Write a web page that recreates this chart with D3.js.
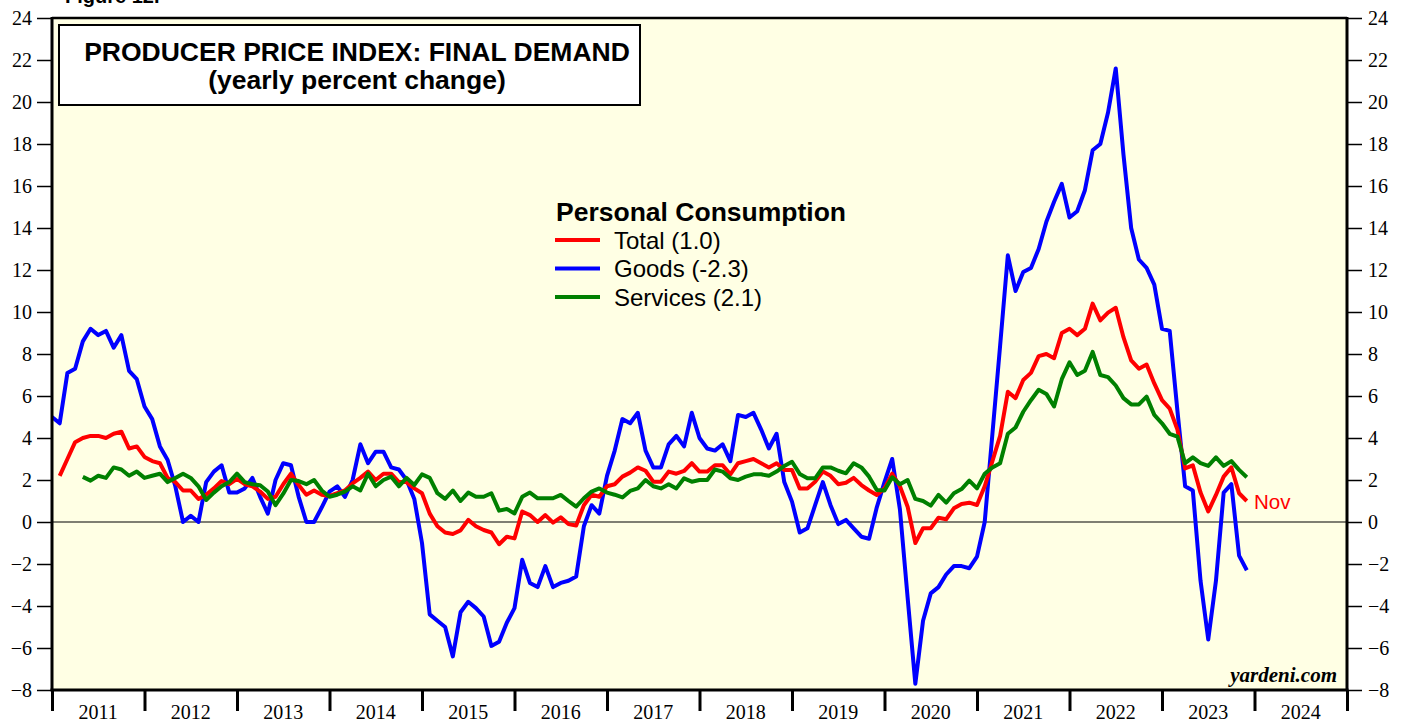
<!DOCTYPE html>
<html>
<head>
<meta charset="utf-8">
<script src="https://cdn.jsdelivr.net/npm/d3@7"></script>
<style>
  html, body { margin: 0; padding: 0; background: #ffffff; }
  svg { display: block; }
</style>
</head>
<body>
<svg id="chart" width="1407" height="721"></svg>
<script>
// ---------- DATA (monthly yearly % change) ----------
const yearLabels = ["2011","2012","2013","2014","2015","2016","2017","2018","2019","2020","2021","2022","2023","2024"];
const yTicks = [-8,-6,-4,-2,0,2,4,6,8,10,12,14,16,18,20,22,24];

// Goods: starts Dec 2010
const goodsStart = [2010, 11];
const goods = [
  5.0,
  4.7, 7.1, 7.3, 8.6, 9.2, 8.9, 9.1, 8.3, 8.9, 7.2, 6.8, 5.5,
  4.9, 3.6, 2.95, 1.7, 0.0, 0.3, 0.0, 1.9, 2.4, 2.7, 1.4, 1.4,
  1.6, 2.1, 1.2, 0.4, 2.0, 2.8, 2.7, 1.2, 0.0, 0.0, 0.7, 1.45,
  1.7, 1.2, 2.0, 3.7, 2.8, 3.35, 3.35, 2.6, 2.5, 2.0, 1.1, -1.0,
  -4.4, -4.7, -5.0, -6.4, -4.3, -3.8, -4.1, -4.5, -5.9, -5.7, -4.8, -4.1,
  -1.8, -2.9, -3.1, -2.1, -3.1, -2.9, -2.8, -2.6, -0.2, 0.8, 0.4, 2.2,
  3.4, 4.9, 4.7, 5.2, 3.4, 2.6, 2.6, 3.7, 4.1, 3.6, 5.2, 4.0,
  3.5, 3.4, 3.7, 2.9, 5.1, 5.0, 5.2, 4.4, 3.5, 4.2, 1.9, 0.97,
  -0.5, -0.3, 0.8, 1.9, 0.8, -0.1, 0.1, -0.3, -0.7, -0.8, 0.7, 1.9,
  3.0, 0.6, -3.6, -7.7, -4.7, -3.4, -3.1, -2.5, -2.1, -2.1, -2.2, -1.65,
  0.0, 4.2, 8.4, 12.7, 11.0, 11.9, 12.1, 13.0, 14.3, 15.25, 16.1, 14.5,
  14.8, 15.8, 17.7, 18.0, 19.5, 21.6, 17.5, 14.0, 12.5, 12.1, 11.3, 9.2,
  9.1, 5.3, 1.7, 1.5, -2.8, -5.6, -2.8, 1.4, 1.8, -1.6, -2.3
];

// Total: starts Jan 2011
const totalStart = [2011, 0];
const total = [
  2.2, 3.0, 3.8, 4.0, 4.1, 4.1, 4.0, 4.2, 4.3, 3.5, 3.6, 3.1,
  2.9, 2.8, 2.1, 1.9, 1.5, 1.5, 1.1, 1.3, 1.6, 1.95, 1.8, 2.05,
  1.8, 1.7, 1.45, 1.1, 1.2, 1.8, 2.3, 1.76, 1.3, 1.5, 1.3, 1.24,
  1.37, 1.5, 1.84, 2.1, 2.4, 2.0, 2.3, 2.3, 1.9, 1.9, 1.6, 1.37,
  0.4, -0.2, -0.5, -0.57, -0.4, 0.1, -0.2, -0.38, -0.5, -1.06, -0.7, -0.78,
  0.5, 0.33, 0.0, 0.33, -0.03, 0.22, -0.1, -0.17, 0.8, 1.3, 1.2, 1.7,
  1.8, 2.16, 2.35, 2.6, 2.44, 1.92, 1.92, 2.4, 2.3, 2.43, 2.8, 2.4,
  2.4, 2.7, 2.7, 2.27, 2.8, 2.9, 3.0, 2.8, 2.6, 2.8, 2.48, 2.48,
  1.6, 1.6, 1.92, 2.4, 2.2, 1.8, 1.87, 2.1, 1.76, 1.5, 1.29, 1.6,
  2.3, 1.7, 0.73, -1.0, -0.3, -0.3, 0.2, 0.13, 0.65, 0.86, 0.92, 0.81,
  1.7, 2.9, 4.1, 6.2, 5.9, 6.76, 7.1, 7.9, 8.0, 7.8, 9.0, 9.2,
  8.9, 9.2, 10.4, 9.6, 9.97, 10.2, 8.8, 7.7, 7.3, 7.5, 6.6, 5.8,
  5.4, 4.4, 2.55, 2.7, 1.4, 0.5, 1.29, 2.16, 2.6, 1.37, 1.0
];

// Services: starts Apr 2011
const servicesStart = [2011, 3];
const services = [
  2.15, 1.97, 2.2, 2.1, 2.6, 2.5, 2.2, 2.4, 2.1,
  2.2, 2.3, 1.9, 2.1, 2.3, 2.1, 1.7, 1.05, 1.4, 1.7, 1.9, 2.3,
  1.9, 1.8, 1.75, 1.45, 0.8, 1.35, 2.0, 1.95, 1.8, 2.0, 1.5, 1.2,
  1.3, 1.45, 1.7, 1.5, 2.3, 1.7, 2.0, 2.16, 1.7, 2.1, 1.76, 2.27,
  2.1, 1.37, 1.1, 1.5, 1.0, 1.4, 1.2, 1.2, 1.37, 0.54, 0.62, 0.41,
  1.2, 1.4, 1.13, 1.13, 1.13, 1.29, 1.0, 0.73, 1.13, 1.45, 1.6, 1.4,
  1.3, 1.17, 1.48, 1.6, 2.0, 1.7, 1.6, 1.8, 1.6, 2.08, 1.92, 2.0,
  2.0, 2.5, 2.4, 2.08, 2.0, 2.16, 2.27, 2.27, 2.2, 2.4, 2.67, 2.87,
  2.29, 2.08, 2.08, 2.6, 2.6, 2.44, 2.32, 2.8, 2.6, 2.16, 1.52, 1.5,
  2.13, 1.8, 2.0, 1.1, 1.0, 0.78, 1.29, 0.92, 1.37, 1.57, 1.97, 1.6,
  2.3, 2.6, 2.8, 4.2, 4.5, 5.25, 5.8, 6.3, 6.1, 5.5, 6.8, 7.6,
  7.0, 7.2, 8.1, 7.0, 6.9, 6.5, 5.9, 5.6, 5.6, 5.97, 5.1, 4.7,
  4.2, 4.06, 2.8, 3.08, 2.8, 2.67, 3.08, 2.67, 2.9, 2.48, 2.13
];

const seriesNames = ["Total (1.0)", "Goods (-2.3)", "Services (2.1)"];
const seriesColors = ["#ff0000", "#0000ff", "#008000"];
const titleLines = ["PRODUCER PRICE INDEX: FINAL DEMAND", "(yearly percent change)"];

// ---------- LAYOUT ----------
const L = 52, R = 1347, T = 18, B = 690;
const svg = d3.select("#chart");

const x = d3.scaleLinear().domain([2011, 2025]).range([L, R]);
const y = d3.scaleLinear().domain([-8, 24]).range([B, T]);

function toPoints(start, vals) {
  return vals.map((v, i) => {
    const m = start[1] + i;
    return { t: start[0] + (m + 1) / 12, v: v };
  });
}

// plot background
svg.append("rect").attr("x", L).attr("y", T).attr("width", R - L).attr("height", B - T)
  .attr("fill", "#ffffe4");

// figure label (cut at top, as in the original)
svg.append("text").attr("x", 65).attr("y", 3)
  .attr("font-family", "Liberation Sans, Arial, sans-serif").attr("font-weight", "bold")
  .attr("font-size", 20).text("Figure 12.");

// zero line
svg.append("line").attr("x1", L).attr("x2", R).attr("y1", y(0)).attr("y2", y(0))
  .attr("stroke", "#000").attr("stroke-width", 1.2);

// clip
svg.append("clipPath").attr("id", "clip").append("rect")
  .attr("x", L).attr("y", T).attr("width", R - L).attr("height", B - T);

const line = d3.line().x(d => x(d.t)).y(d => y(d.v));
const seriesData = [toPoints(totalStart, total), toPoints(goodsStart, goods), toPoints(servicesStart, services)];
const drawOrder = [1, 0, 2];
const g = svg.append("g").attr("clip-path", "url(#clip)");
drawOrder.forEach(k => {
  g.append("path").datum(seriesData[k])
    .attr("fill", "none").attr("stroke", seriesColors[k])
    .attr("stroke-width", 4).attr("stroke-linejoin", "round").attr("stroke-linecap", "butt")
    .attr("d", line);
});

// Y axes
const yAxisL = d3.axisLeft(y).tickValues(yTicks).tickSize(15).tickPadding(5).tickFormat(d3.format("d"));
const yAxisR = d3.axisRight(y).tickValues(yTicks).tickSize(15).tickPadding(6).tickFormat(d3.format("d"));
const gl = svg.append("g").attr("transform", `translate(${L},0)`).call(yAxisL);
const gr = svg.append("g").attr("transform", `translate(${R},0)`).call(yAxisR);
[gl, gr].forEach(ga => {
  ga.select(".domain").remove();
  ga.selectAll(".tick line").attr("stroke", "#000").attr("stroke-width", 1.5);
  ga.selectAll(".tick text").attr("font-family", "Liberation Serif, Times New Roman, serif")
    .attr("font-size", 20).attr("fill", "#000");
});

// X axis: ticks at year boundaries, labels centered in each year
const yearBounds = d3.range(2011, 2026);
const xAxis = d3.axisBottom(x).tickValues(yearBounds).tickSize(21).tickFormat("");
const gx = svg.append("g").attr("transform", `translate(0,${B})`).call(xAxis);
gx.select(".domain").remove();
gx.selectAll(".tick line").attr("stroke", "#000").attr("stroke-width", 3);
svg.append("g").selectAll("text").data(yearLabels).join("text")
  .attr("x", (d, i) => x(2011 + i + 0.5)).attr("y", 719)
  .attr("text-anchor", "middle")
  .attr("font-family", "Liberation Serif, Times New Roman, serif").attr("font-size", 20)
  .text(d => d);

// frame
svg.append("line").attr("x1", L).attr("x2", R).attr("y1", T).attr("y2", T).attr("stroke", "#000").attr("stroke-width", 2.5);
svg.append("line").attr("x1", L - 1.5).attr("x2", R + 1.5).attr("y1", B).attr("y2", B).attr("stroke", "#000").attr("stroke-width", 3);
svg.append("line").attr("x1", L).attr("x2", L).attr("y1", T - 1).attr("y2", B).attr("stroke", "#000").attr("stroke-width", 3);
svg.append("line").attr("x1", R).attr("x2", R).attr("y1", T - 1).attr("y2", B).attr("stroke", "#000").attr("stroke-width", 3);

// title box
svg.append("rect").attr("x", 59).attr("y", 25).attr("width", 581).attr("height", 80)
  .attr("fill", "#ffffff").attr("stroke", "#000").attr("stroke-width", 2);
svg.append("g").selectAll("text").data(titleLines).join("text")
  .attr("x", 357).attr("y", (d, i) => 61 + i * 28)
  .attr("text-anchor", "middle")
  .attr("font-family", "Liberation Sans, Arial, sans-serif").attr("font-weight", "bold")
  .attr("font-size", 26.5).text(d => d);

// legend
svg.append("text").attr("x", 556).attr("y", 221)
  .attr("font-family", "Liberation Sans, Arial, sans-serif").attr("font-weight", "bold")
  .attr("font-size", 26.5).text("Personal Consumption");
const lg = svg.append("g").selectAll("g").data(seriesNames).join("g")
  .attr("transform", (d, i) => `translate(0,${240 + i * 28.5})`);
lg.append("line").attr("x1", 555).attr("x2", 600).attr("y1", 0).attr("y2", 0)
  .attr("stroke", (d, i) => seriesColors[i]).attr("stroke-width", 4);
lg.append("text").attr("x", 614).attr("y", 8.5)
  .attr("font-family", "Liberation Sans, Arial, sans-serif").attr("font-size", 24)
  .text(d => d);

// Nov label
svg.append("text").attr("x", 1254).attr("y", 509)
  .attr("font-family", "Liberation Sans, Arial, sans-serif").attr("font-size", 20.5)
  .attr("fill", "#ff0000").text("Nov");

// source
svg.append("text").attr("x", 1337).attr("y", 682).attr("text-anchor", "end")
  .attr("font-family", "Liberation Serif, Times New Roman, serif").attr("font-weight", "bold")
  .attr("font-style", "italic").attr("font-size", 21).text("yardeni.com");
</script>
</body>
</html>
